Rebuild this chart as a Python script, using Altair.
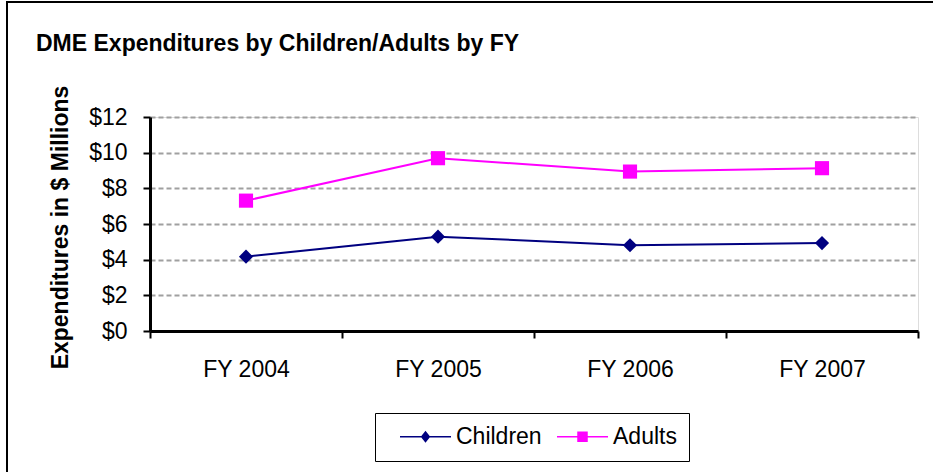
import altair as alt
import pandas as pd

fiscal_years = ["FY 2004", "FY 2005", "FY 2006", "FY 2007"]
children = [4.17, 5.29, 4.81, 4.93]
adults = [7.31, 9.69, 8.94, 9.13]
series_names = ["Children", "Adults"]
series_colors = ["#000080", "#FF00FF"]
y_ticks = [0, 2, 4, 6, 8, 10, 12]

rows = []
for name, vals in zip(series_names, [children, adults]):
    for fy, v in zip(fiscal_years, vals):
        rows.append({"fy": fy, "series": name, "value": v})
df = pd.DataFrame(rows)

FONT = "Liberation Sans"

x_enc = alt.X(
    "fy:N",
    sort=fiscal_years,
    scale=alt.Scale(type="band", paddingInner=0, paddingOuter=0),
    axis=alt.Axis(
        title=None,
        labelAngle=0,
        labelFont=FONT,
        labelFontSize=23,
        labelColor="#000000",
        labelPadding=20,
        tickBand="extent",
        ticks=True,
        tickSize=7,
        tickWidth=2,
        tickColor="#000000",
        domainColor="#000000",
        domainWidth=3,
        grid=False,
    ),
)
y_enc = alt.Y(
    "value:Q",
    scale=alt.Scale(domain=[0, 12], nice=False),
    axis=alt.Axis(
        title="Expenditures in $ Millions",
        titleFont=FONT,
        titleFontSize=23,
        titleFontWeight="bold",
        titleColor="#000000",
        titleX=-90,
        titleY=110,
        titleAngle=-90,
        titleAlign="center",
        titleBaseline="middle",
        values=y_ticks,
        tickCount=7,
        labelOverlap=False,
        labelExpr="'$' + datum.value",
        labelFont=FONT,
        labelFontSize=23,
        labelColor="#000000",
        labelPadding=16,
        tickSize=7,
        tickWidth=2,
        tickColor="#000000",
        domainColor="#000000",
        domainWidth=3,
        grid=True,
        gridColor="#a0a0a0",
        gridDash=[5, 3],
        gridWidth=2,
    ),
)

color_scale = alt.Scale(domain=series_names, range=series_colors)

frame = alt.Chart(alt.Data(values=[{}])).mark_rect(
    fill="transparent", stroke="#000000", strokeWidth=2
).encode(
    x=alt.value(-143), x2=alt.value(900), y=alt.value(-115), y2=alt.value(400)
)

lines = alt.Chart(df).mark_line(strokeWidth=2).encode(
    x=x_enc,
    y=y_enc,
    color=alt.Color("series:N", scale=color_scale, legend=None),
    detail="series:N",
)

points = alt.Chart(df).mark_point(filled=True, size=200, opacity=1).encode(
    x=x_enc,
    y=y_enc,
    color=alt.Color("series:N", scale=color_scale, legend=None),
    shape=alt.Shape(
        "series:N",
        scale=alt.Scale(domain=series_names, range=["diamond", "square"]),
        legend=None,
    ),
)

legend_paths = [
    "M-5.1,-0.15H5.1V0.15H-5.1Z M0,-1.2L0.95,0L0,1.2L-0.95,0Z",
    "M-5.1,-0.15H5.1V0.15H-5.1Z M-1.05,-1.05H1.05V1.05H-1.05Z",
]
legend_cfg = dict(
    title=None,
    orient="none",
    legendX=225,
    legendY=296,
    direction="horizontal",
    columns=2,
    symbolSize=100,
    symbolOffset=27,
    labelOffset=19,
    columnPadding=2,
    labelFont=FONT,
    labelFontSize=23,
    labelColor="#000000",
    strokeColor="#000000",
    fillColor="#ffffff",
    padding=12,
)
legend_layer = alt.Chart(df).transform_filter("false").mark_point(
    filled=True, size=100, opacity=1
).encode(
    x=x_enc,
    y=y_enc,
    color=alt.Color("series:N", scale=color_scale, legend=alt.Legend(**legend_cfg)),
    shape=alt.Shape(
        "series:N",
        scale=alt.Scale(domain=series_names, range=legend_paths),
        legend=alt.Legend(**legend_cfg),
    ),
)

chart = alt.layer(frame, lines, points, legend_layer).resolve_scale(
    shape="independent", color="independent"
).properties(
    width=768,
    height=214,
    autosize=alt.AutoSizeParams(type="none"),
    padding={"left": 150, "top": 117, "right": 15, "bottom": 141},
    title=alt.TitleParams(
        "DME Expenditures by Children/Adults by FY",
        anchor="start",
        frame="group",
        dx=-114,
        dy=73,
        offset=0,
        baseline="alphabetic",
        font=FONT,
        fontSize=23,
        fontWeight="bold",
        color="#000000",
    ),
).configure_view(
    stroke="#808080", strokeWidth=2
).configure(background="#ffffff")

chart.save("out.html", embed_options={"renderer": "svg", "actions": False})
